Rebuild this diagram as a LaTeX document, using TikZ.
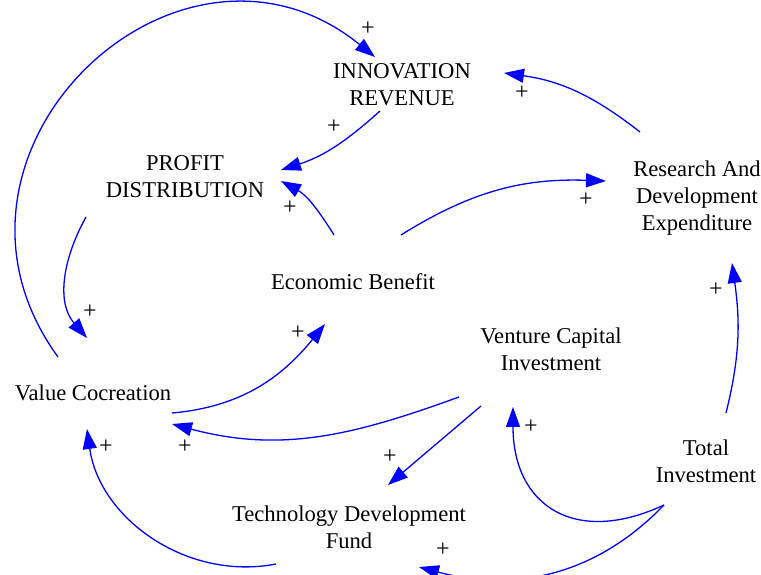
\documentclass[tikz,border=0pt]{standalone}
\usepackage{fontspec}
\setmainfont{Liberation Serif}
\usetikzlibrary{arrows.meta}

\begin{document}
\begin{tikzpicture}[x=1pt,y=1pt,
  var/.style={align=center,inner sep=0pt,font=\fontsize{22.6}{27}\selectfont},
  link/.style={blue,line width=1.3pt,-{Triangle[length=20pt,width=14pt]}},
  sign/.style={inner sep=0pt,font=\fontsize{24}{24}\selectfont}]
\useasboundingbox (0,0) rectangle (761,575);
\node[var] (inno) at (402,490) {INNOVATION\\REVENUE};
\node[var] (prof) at (185,398) {PROFIT\\DISTRIBUTION};
\node[var] (rnd) at (697,377) {Research And\\Development\\Expenditure};
\node[var] (econ) at (353,293) {Economic Benefit};
\node[var] (vent) at (551,226) {Venture Capital\\Investment};
\node[var] (val) at (93,182) {Value Cocreation};
\node[var] (total) at (706,114) {Total\\Investment};
\node[var] (tech) at (349,48) {Technology Development\\Fund};
\draw[link] ([shift={(-35,36)}]val.center) to[out=126,in=141,looseness=1.48] ([shift={(-27,28)}]inno.center);
\draw[link] ([shift={(-22,-26)}]inno.center) to[out=222,in=18] ([shift={(96,7)}]prof.center);
\draw[link] ([shift={(-57,66)}]rnd.center) to[out=142,in=-8] ([shift={(102,12)}]inno.center);
\draw[link] ([shift={(-19,47)}]econ.center) to[out=122,in=-29] ([shift={(96,-4)}]prof.center);
\draw[link] ([shift={(48,47)}]econ.center) to[out=32,in=178] ([shift={(-91,17)}]rnd.center);
\draw[link] ([shift={(-99,-40)}]prof.center) to[out=241,in=131] ([shift={(-6,55)}]val.center);
\draw[link] ([shift={(79,-20)}]val.center) to[out=5,in=231] ([shift={(-28,-42)}]econ.center);
\draw[link] ([shift={(-92,-48)}]vent.center) to[out=200,in=-15] ([shift={(79,-31)}]val.center);
\draw[link] ([shift={(-70,-57)}]vent.center) -- ([shift={(39,42)}]tech.center);
\draw[link] ([shift={(-73,-37)}]tech.center) to[out=191,in=-82] ([shift={(-6,-36)}]val.center);
\draw[link] ([shift={(-42,-44)}]total.center) to[out=205,in=270,looseness=1.4] ([shift={(-38,-58)}]vent.center);
\draw[link] ([shift={(-42,-44)}]total.center) to[out=226,in=-15] ([shift={(70,-40)}]tech.center);
\draw[link] ([shift={(20,48)}]total.center) to[out=76,in=-82] ([shift={(35,-65)}]rnd.center);
% polarity signs
\foreach \x/\y [count=\i] in {368/546,334/448,522/482,290/367,586/375,90/263,298/242,
  185/128,390/118,106/128,531/148,443/25,716/285}
  \node[sign] (plus\i) at (\x,\y) {+};
\end{tikzpicture}
\end{document}
